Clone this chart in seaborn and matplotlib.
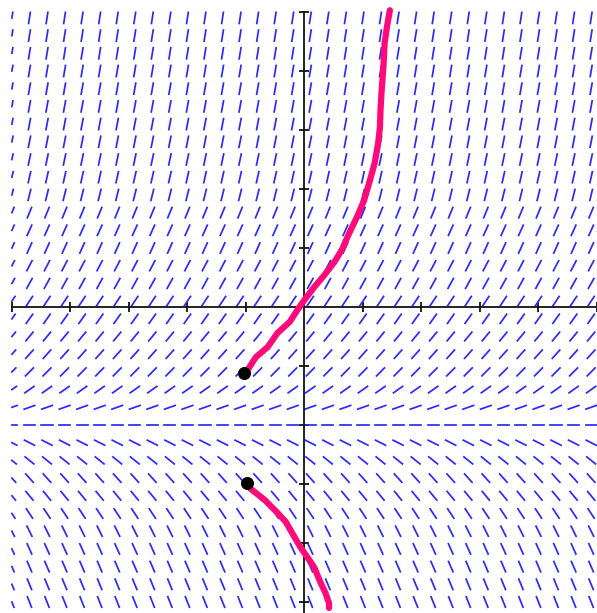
import numpy as np
import pandas as pd
import matplotlib
matplotlib.use("Agg")
import matplotlib.pyplot as plt
import seaborn as sns

# slope field grid (same spacing both ways) and slope read per row
grid_x = [-5.0, -4.7, -4.4, -4.1, -3.8, -3.5, -3.2, -2.9, -2.6, -2.3, -2.0, -1.7,
          -1.4, -1.1, -0.8, -0.5, -0.2, 0.1, 0.4, 0.7, 1.0, 1.3, 1.6, 1.9, 2.2, 2.5,
          2.8, 3.1, 3.4, 3.7, 4.0, 4.3, 4.6, 4.9]
row_y = [-5.0, -4.7, -4.4, -4.1, -3.8, -3.5, -3.2, -2.9, -2.6, -2.3, -2.0, -1.7,
         -1.4, -1.1, -0.8, -0.5, -0.2, 0.1, 0.4, 0.7, 1.0, 1.3, 1.6, 1.9, 2.2, 2.5,
         2.8, 3.1, 3.4, 3.7, 4.0, 4.3, 4.6, 4.9]
row_slope = [-2.5, -2.4, -2.3, -2.2, -2.0, -1.5, -1.2, -1.1, -0.8, -0.5, 0.0, 0.35,
             0.7, 1.0, 1.1, 1.2, 1.4, 1.5, 1.8, 1.9, 2.2, 2.2, 2.4, 4.0, 4.4, 4.7,
             5.0, 5.2, 5.4, 5.6, 5.8, 6.0, 6.2, 6.4]

# hand drawn solution curves and their starting dots
upper_x = [-1.02, -0.83, -0.63, -0.46, -0.25, -0.12, 0.0, 0.17, 0.34, 0.51, 0.64,
           0.75, 0.90, 1.02, 1.12, 1.20, 1.26, 1.29, 1.30, 1.32, 1.35, 1.37, 1.41, 1.46]
upper_y = [-1.14, -0.85, -0.68, -0.44, -0.25, -0.05, 0.12, 0.34, 0.54, 0.76, 0.97,
           1.22, 1.53, 1.81, 2.15, 2.44, 2.78, 3.05, 3.34, 3.68, 4.07, 4.47, 4.75, 5.03]
lower_x = [-1.0, -0.92, -0.68, -0.46, -0.32, -0.17, -0.07, 0.05, 0.17, 0.27, 0.36, 0.42, 0.42]
lower_y = [-3.0, -3.08, -3.27, -3.49, -3.64, -3.90, -4.07, -4.24, -4.42, -4.66, -4.85, -5.02, -5.10]
dot_x = [-1.03, -0.99]
dot_y = [-1.12, -2.99]

ticks = [-5, -4, -3, -2, -1, 1, 2, 3, 4, 5]

half = 0.095
rows = []
k = 0
for yc, s in zip(row_y, row_slope):
    th = np.arctan(s)
    dx, dy = half * np.cos(th), half * np.sin(th)
    for xc in grid_x:
        x0, y0, x1, y1 = xc - dx, yc - dy, xc + dx, yc + dy
        if x0 < -5.0:  # clipped at the left edge of the field
            y0 = yc + (y0 - yc) * (xc + 5.0) / dx if dx > 0 else y0
            x0 = -5.0
        rows.append((k, x0, y0))
        rows.append((k, x1, y1))
        k += 1
field = pd.DataFrame(rows, columns=["seg", "x", "y"])

fig = plt.figure(figsize=(5.97, 6.13), dpi=100)
ax = fig.add_axes([0, 0, 1, 1])

sns.lineplot(data=field, x="x", y="y", units="seg", estimator=None, sort=False,
             color="#2a2aff", lw=1.25, ax=ax, legend=False)

sns.lineplot(x=upper_x, y=upper_y, sort=False, estimator=None, color="#ff0a78",
             lw=4.5, ax=ax, zorder=4, solid_capstyle="round")
sns.lineplot(x=lower_x, y=lower_y, sort=False, estimator=None, color="#ff0a78",
             lw=4.5, ax=ax, zorder=4, solid_capstyle="round")
sns.scatterplot(x=dot_x, y=dot_y, color="black", s=75, ax=ax, zorder=5, edgecolor="black")

ax.set_xlim(-307 / 59, 290 / 59)
ax.set_ylim(-306 / 59, 307 / 59)

for side in ["top", "right"]:
    ax.spines[side].set_visible(False)
ax.spines["left"].set_position(("data", 0))
ax.spines["bottom"].set_position(("data", 0))
ax.spines["left"].set_bounds(-5.3, 5.0)
ax.spines["bottom"].set_bounds(-5.0, 5.0)
for side in ["left", "bottom"]:
    ax.spines[side].set_linewidth(1.3)
    ax.spines[side].set_color("#111111")
    ax.spines[side].set_zorder(3)

ax.set_xticks(ticks)
ax.set_yticks(ticks)
ax.set_xticklabels([])
ax.set_yticklabels([])
ax.tick_params(direction="inout", length=7, width=1.3, color="#111111")
ax.set_xlabel("")
ax.set_ylabel("")

fig.savefig("out.png", dpi=100)
